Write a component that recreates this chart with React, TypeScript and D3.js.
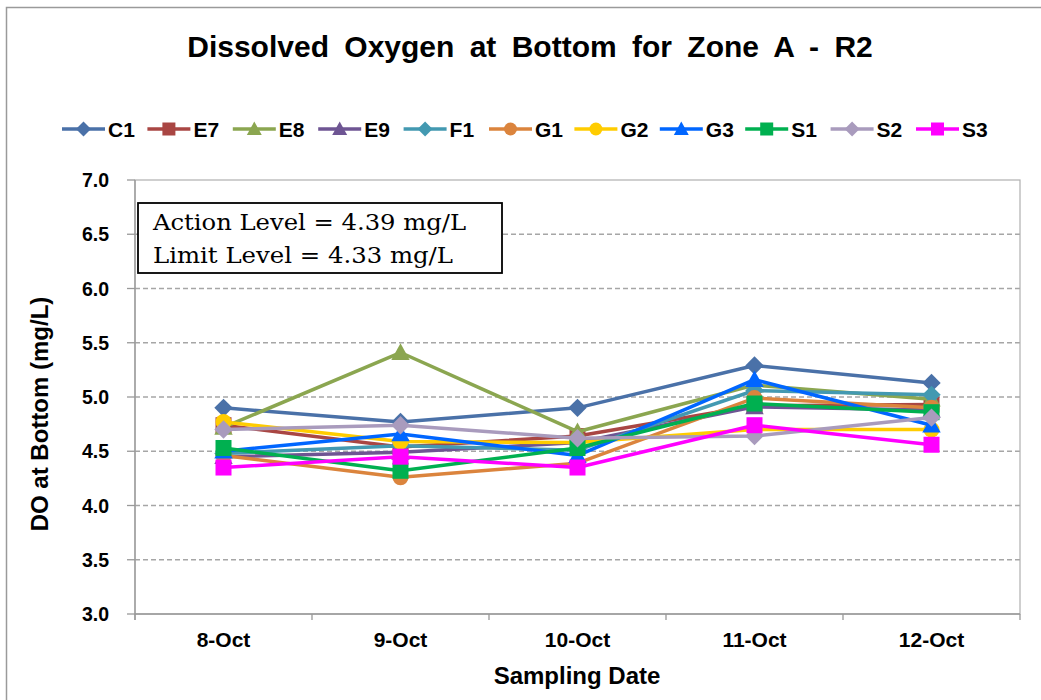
import React from "react";
import * as d3 from "d3";

const dates = ["8-Oct", "9-Oct", "10-Oct", "11-Oct", "12-Oct"];
const yTicks = [3.0, 3.5, 4.0, 4.5, 5.0, 5.5, 6.0, 6.5, 7.0];

const C1 = [4.90, 4.77, 4.90, 5.29, 5.13];
const E7 = [4.74, 4.54, 4.64, 4.92, 4.93];
const E8 = [4.72, 5.41, 4.68, 5.11, 4.98];
const E9 = [4.45, 4.49, 4.58, 4.91, 4.88];
const F1 = [4.48, 4.55, 4.51, 5.06, 5.02];
const G1 = [4.46, 4.26, 4.39, 4.99, 4.90];
const G2 = [4.77, 4.59, 4.58, 4.70, 4.70];
const G3 = [4.50, 4.66, 4.46, 5.16, 4.74];
const S1 = [4.53, 4.32, 4.53, 4.94, 4.86];
const S2 = [4.70, 4.74, 4.62, 4.64, 4.81];
const S3 = [4.35, 4.45, 4.35, 4.74, 4.56];

type Shape = "diamond" | "square" | "triangle" | "circle";
const seriesList: { name: string; values: number[]; color: string; shape: Shape }[] = [
  { name: "C1", values: C1, color: "#4A71A8", shape: "diamond" },
  { name: "E7", values: E7, color: "#A94643", shape: "square" },
  { name: "E8", values: E8, color: "#8BA650", shape: "triangle" },
  { name: "E9", values: E9, color: "#6E5593", shape: "triangle" },
  { name: "F1", values: F1, color: "#4399B1", shape: "diamond" },
  { name: "G1", values: G1, color: "#DB843D", shape: "circle" },
  { name: "G2", values: G2, color: "#FFCC00", shape: "circle" },
  { name: "G3", values: G3, color: "#0066FF", shape: "triangle" },
  { name: "S1", values: S1, color: "#00B050", shape: "square" },
  { name: "S2", values: S2, color: "#A99BBD", shape: "diamond" },
  { name: "S3", values: S3, color: "#FF00FF", shape: "square" },
];

const W = 1041;
const H = 700;
const left = 135;
const right = 1020;
const top = 180;
const bottom = 614;

function Marker({ x, y, shape, color, s }: { x: number; y: number; shape: Shape; color: string; s: number }) {
  if (shape === "square") return <rect x={x - s} y={y - s} width={2 * s} height={2 * s} fill={color} />;
  if (shape === "circle") return <circle cx={x} cy={y} r={s} fill={color} />;
  if (shape === "diamond") {
    const d = s * 1.15;
    return <path d={`M${x},${y - d}L${x + d},${y}L${x},${y + d}L${x - d},${y}Z`} fill={color} />;
  }
  const t = s * 1.15;
  return <path d={`M${x},${y - t}L${x + t},${y + t * 0.8}L${x - t},${y + t * 0.8}Z`} fill={color} />;
}

export default function App() {
  const x = d3.scaleBand<string>().domain(dates).range([left, right]).padding(0);
  const y = d3.scaleLinear().domain([3, 7]).range([bottom, top]);
  const cx = (d: string) => (x(d) as number) + x.bandwidth() / 2;
  const line = d3
    .line<number>()
    .x((_, i) => cx(dates[i]))
    .y((v) => y(v));
  const font = "'Liberation Sans', Arial, sans-serif";
  const legendStart = 62;
  const legendStep = 85.4;

  return (
    <svg width={W} height={H} style={{ position: "absolute", left: 0, top: 0, background: "#fff" }} fontFamily={font}>
      <rect x={6.5} y={7.5} width={W + 10} height={H + 10} fill="#fff" stroke="#9a9a9a" strokeWidth={1.5} />
      <text x={530} y={57} textAnchor="middle" fontSize={30} fontWeight="bold" wordSpacing={7}>
        Dissolved Oxygen at Bottom for Zone A - R2
      </text>

      {/* legend */}
      {seriesList.map((s, i) => {
        const lx = legendStart + i * legendStep;
        const ly = 129;
        return (
          <g key={s.name}>
            <line x1={lx} x2={lx + 43} y1={ly} y2={ly} stroke={s.color} strokeWidth={3.5} />
            <Marker x={lx + 21.5} y={ly} shape={s.shape} color={s.color} s={6.5} />
            <text x={lx + 46} y={ly + 7.5} fontSize={21} fontWeight="bold">
              {s.name}
            </text>
          </g>
        );
      })}

      {/* grid */}
      {yTicks.filter((t) => t > 3 && t < 7).map((t) => (
        <line key={t} x1={left} x2={right} y1={y(t)} y2={y(t)} stroke="#a6a6a6" strokeWidth={1.3} strokeDasharray="5,3" />
      ))}
      <rect x={left} y={top} width={right - left} height={bottom - top} fill="none" stroke="#b0b0b0" strokeWidth={1.2} />
      <line x1={left} x2={left} y1={top} y2={bottom + 6} stroke="#999" strokeWidth={1.3} />
      <line x1={left} x2={right} y1={bottom} y2={bottom} stroke="#999" strokeWidth={1.3} />

      {/* y ticks */}
      {yTicks.map((t) => (
        <g key={t}>
          <line x1={left - 8} x2={left} y1={y(t)} y2={y(t)} stroke="#999" strokeWidth={1.3} />
          <text x={109} y={y(t) + 7} textAnchor="end" fontSize={19.5} fontWeight="bold">
            {t.toFixed(1)}
          </text>
        </g>
      ))}
      {/* x ticks */}
      {dates.map((d, i) => (
        <g key={d}>
          <line x1={x(d) as number} x2={x(d) as number} y1={bottom} y2={bottom + 6} stroke="#999" strokeWidth={1.3} />
          {i === dates.length - 1 && (
            <line x1={right} x2={right} y1={bottom} y2={bottom + 6} stroke="#999" strokeWidth={1.3} />
          )}
          <text x={cx(d)} y={647} textAnchor="middle" fontSize={21} fontWeight="bold">
            {d}
          </text>
        </g>
      ))}

      <text x={577} y={684} textAnchor="middle" fontSize={24} fontWeight="bold">
        Sampling Date
      </text>
      <text transform={`translate(48,414) rotate(-90)`} textAnchor="middle" fontSize={24} fontWeight="bold">
        DO at Bottom (mg/L)
      </text>

      {/* series */}
      {seriesList.map((s) => (
        <g key={s.name}>
          <path d={line(s.values) || ""} fill="none" stroke={s.color} strokeWidth={3.5} strokeLinejoin="round" />
          {s.values.map((v, i) => (
            <Marker key={i} x={cx(dates[i])} y={y(v)} shape={s.shape} color={s.color} s={8} />
          ))}
        </g>
      ))}

      {/* annotation */}
      <rect x={138} y={203} width={364} height={70} fill="#fff" stroke="#000" strokeWidth={1.8} />
      <text x={153} y={230} fontSize={23} fontFamily="'DejaVu Serif', 'Liberation Serif', serif" textLength={313} lengthAdjust="spacingAndGlyphs">
        Action Level = 4.39 mg/L
      </text>
      <text x={153} y={263} fontSize={23} fontFamily="'DejaVu Serif', 'Liberation Serif', serif" textLength={300} lengthAdjust="spacingAndGlyphs">
        Limit Level = 4.33 mg/L
      </text>
    </svg>
  );
}
